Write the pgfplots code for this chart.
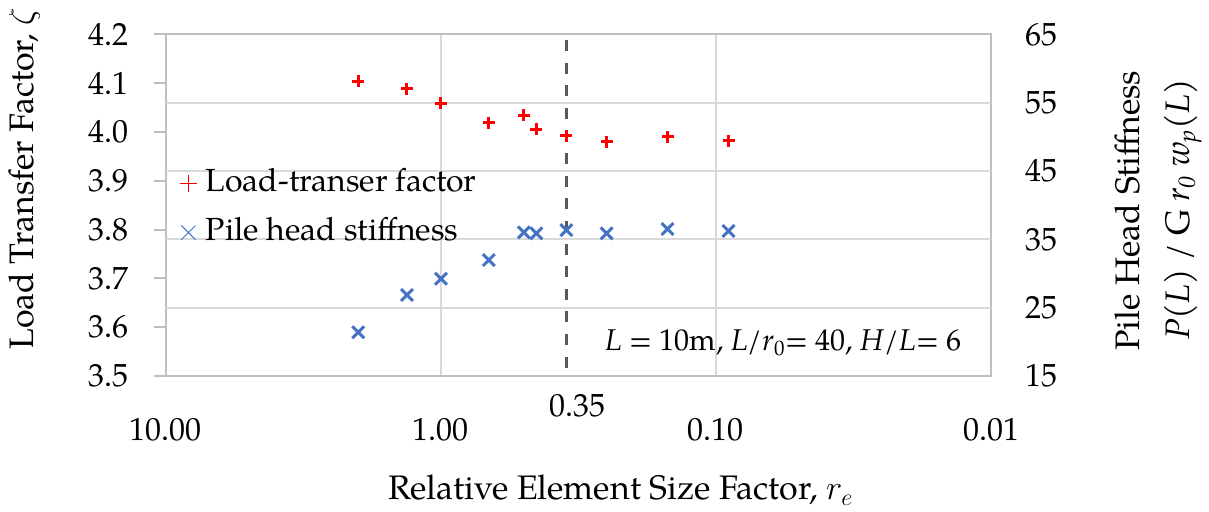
\documentclass[border=0pt]{standalone}
\usepackage{fontspec}
\setmainfont{TeX Gyre Pagella}
\usepackage{pgfplots}
\pgfplotsset{compat=1.18}
\definecolor{myred}{RGB}{255,0,0}
\definecolor{myblue}{RGB}{68,114,196}
\definecolor{axgray}{RGB}{191,191,191}
\definecolor{gridgray}{RGB}{217,217,217}
\definecolor{dashgray}{RGB}{89,89,89}
\begin{document}
\fontsize{16}{19}\selectfont
\begin{tikzpicture}
\begin{axis}[
  name=ax1, clip=false,
  scale only axis, width=412.5pt, height=170.85pt,
  xmode=log, x dir=reverse, xmin=0.01, xmax=10,
  ymin=3.5, ymax=4.2,
  xtick={10,1,0.1,0.01}, xticklabels={10.00,1.00,0.10,0.01},
  xminorticks=false, yminorticks=false,
  ytick={3.5,3.6,3.7,3.8,3.9,4.0,4.1,4.2},
  yticklabel style={/pgf/number format/fixed, /pgf/number format/fixed zerofill, /pgf/number format/precision=1, /pgf/number format/assume math mode=true, anchor=east, xshift=-7.2pt},
  xticklabel style={anchor=base, yshift=-26pt},
  axis line style={axgray, line width=1pt},
  xmajorgrids, grid style={gridgray, line width=1pt},
  extra y ticks={3.64,3.78,3.92,4.06}, extra y tick labels={},
  extra y tick style={grid=major, major tick length=0pt},
  extra x ticks={0.35}, extra x tick labels={0.35},
  extra x tick style={grid=none, xticklabel style={yshift=12pt, xshift=5.5pt}},
  ytick style={axgray, line width=1pt},
  xtick style={draw=none},
  ytick pos=left, tick align=outside, major tick length=6pt,
  xlabel={\fontsize{17}{20}\selectfont Relative Element Size Factor, $r_e$},
  xlabel style={at={(axis description cs:0.269,-0.3626)}, anchor=base west, inner sep=0pt},
  legend style={draw=none, fill=none, at={(axis description cs:0.0165,0.617)}, anchor=north west, inner sep=0pt, row sep=6.5pt, column sep=3.5pt, nodes={inner sep=1pt, text height=12pt, text depth=4pt}},
  legend cell align=left,
  legend image code/.code={\draw[#1] plot coordinates {(0pt,0pt)};},
]
\addplot[forget plot, dashgray, line width=1.3pt, dash pattern=on 5.5pt off 5.8pt] coordinates {(0.35,4.188) (0.35,3.512)};
\addplot[forget plot, only marks, mark=+, mark size=3pt, myred, line width=1.5pt] coordinates {
(2.0,4.104) (1.33,4.088) (1.0,4.059) (0.67,4.019) (0.5,4.034) (0.45,4.006) (0.35,3.992) (0.25,3.980) (0.15,3.990) (0.09,3.982)};
\addlegendimage{only marks, mark=+, mark size=4.2pt, myred, line width=0.5pt}
\addlegendentry{Load-transer factor}
\addlegendimage{only marks, mark=x, mark size=5pt, myblue, line width=0.5pt}
\addlegendentry{Pile head stiffness}
\node[anchor=base west, inner sep=0pt] at (rel axis cs:0.532,0.0738) {\fontsize{15}{18}\selectfont\textit{L} = 10m, \textit{L}/\textit{r}\textsubscript{0}= 40, \textit{H}/\textit{L}= 6};
\node[rotate=90, anchor=base west, inner sep=0pt] at (rel axis cs:-0.1612,0.076) {\fontsize{17}{20}\selectfont Load Transfer Factor, $\zeta$};
\node[rotate=90, anchor=base, inner sep=0pt] at (rel axis cs:1.1806,0.4839) {\fontsize{17}{20}\selectfont Pile Head Stiffness};
\node[rotate=90, anchor=base, inner sep=0pt] at (rel axis cs:1.2412,0.4868) {\fontsize{17}{20}\selectfont \textit{P}(\textit{L}) / G \textit{r}\textsubscript{\textit{0}} \textit{w}\textsubscript{\textit{p}}(\textit{L})};
\end{axis}
\begin{axis}[
  scale only axis, width=412.5pt, height=170.85pt,
  xmode=log, x dir=reverse, xmin=0.01, xmax=10,
  ymin=15, ymax=65,
  hide x axis, axis y line*=right,
  axis line style={draw=none},
  ytick={15,25,35,45,55,65},
  ytick style={draw=none}, major tick length=0pt,
  yticklabel style={/pgf/number format/assume math mode=true, anchor=west, xshift=11.7pt},
]
\addplot[only marks, mark=x, mark size=4.2pt, myblue, line width=1.5pt] coordinates {
(2.0,21.39) (1.33,26.85) (1.0,29.24) (0.67,31.97) (0.5,36.02) (0.45,35.87) (0.35,36.36) (0.25,35.87) (0.15,36.51) (0.09,36.22)};
\end{axis}
\pgfresetboundingbox
\path[use as bounding box] (ax1.south west) ++(-83pt,-67.5pt) rectangle ++(604.5pt,255.5pt);
\end{tikzpicture}
\end{document}
